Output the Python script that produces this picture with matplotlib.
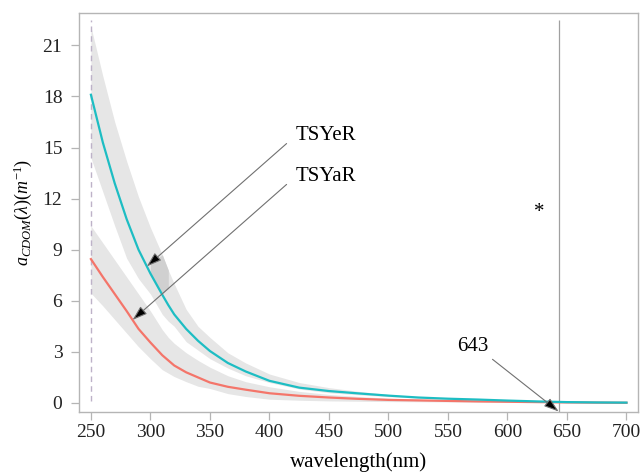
import numpy as np
import matplotlib.pyplot as plt

plt.rcParams['font.family'] = 'Liberation Serif'
plt.rcParams['mathtext.fontset'] = 'custom'
plt.rcParams['mathtext.rm'] = 'Liberation Serif'
plt.rcParams['mathtext.it'] = 'Liberation Serif:italic'

# absorption spectra, mean and spread per group
wl = np.array([250, 260, 270, 280, 290, 300, 310, 315, 320, 330, 340, 350, 365, 380,
               400, 425, 450, 475, 500, 525, 550, 575, 600, 625, 650, 675, 700])
tsyer = np.array([18.1, 15.3, 12.9, 10.8, 9.0, 7.6, 6.35, 5.75, 5.2, 4.35, 3.65, 3.05, 2.35, 1.85,
                  1.3, 0.9, 0.7, 0.56, 0.43, 0.32, 0.25, 0.2, 0.14, 0.09, 0.05, 0.03, 0.02])
tsyer_hi = np.array([22.1, 19.2, 16.5, 14.2, 12.1, 10.3, 8.7, 7.8, 7.0, 5.5, 4.5, 3.85, 2.95, 2.35,
                     1.7, 1.2, 0.9, 0.68, 0.5, 0.36, 0.28, 0.22, 0.16, 0.1, 0.06, 0.04, 0.03])
tsyer_lo = np.array([14.4, 12.4, 10.4, 8.5, 7.3, 6.4, 5.2, 4.8, 4.5, 3.6, 3.1, 2.6, 2.05, 1.6,
                     1.2, 0.82, 0.6, 0.48, 0.37, 0.29, 0.23, 0.18, 0.12, 0.08, 0.04, 0.02, 0.01])
tsyar = np.array([8.45, 7.4, 6.4, 5.4, 4.35, 3.55, 2.8, 2.5, 2.2, 1.8, 1.5, 1.2, 0.95, 0.78,
                  0.57, 0.42, 0.32, 0.24, 0.18, 0.15, 0.12, 0.09, 0.07, 0.05, 0.03, 0.02, 0.01])
tsyar_hi = np.array([10.4, 9.4, 8.4, 7.4, 6.4, 5.4, 4.3, 3.85, 3.5, 2.95, 2.5, 2.1, 1.6, 1.25,
                     0.95, 0.68, 0.5, 0.38, 0.28, 0.22, 0.17, 0.13, 0.1, 0.07, 0.05, 0.03, 0.02])
tsyar_lo = np.array([6.45, 5.7, 4.9, 4.1, 3.3, 2.6, 1.95, 1.75, 1.55, 1.25, 0.98, 0.85, 0.55, 0.38,
                     0.22, 0.16, 0.12, 0.1, 0.08, 0.07, 0.06, 0.05, 0.04, 0.03, 0.02, 0.01, 0.0])

cross_wl = 643
xticks = list(range(250, 701, 50))
yticks = list(range(0, 22, 3))

teal = '#1DBDC3'
red = '#F4756A'
band = '#e6e6e6'
grey = '#b5b5b5'

fig = plt.figure(figsize=(6.44, 4.73), dpi=100)
ax = fig.add_axes([0.1227, 0.129, 0.868, 0.8435])

ax.fill_between(wl, tsyer_lo, tsyer_hi, color=band, lw=0, zorder=1)
ax.fill_between(wl, tsyar_lo, tsyar_hi, color=band, lw=0, zorder=1)

# label anchors and arrow tips
e_txt, e_tip = (422, 15.7), 297
a_txt, a_tip = (422, 13.3), 285
e_tip_y = np.interp(e_tip, wl, tsyer)
a_tip_y = np.interp(a_tip, wl, tsyar)

# shade the upper band between the two arrows
e_line = e_tip_y + (wl - e_tip) * (e_txt[1] - e_tip_y) / (e_txt[0] - e_tip)
a_line = a_tip_y + (wl - a_tip) * (a_txt[1] - a_tip_y) / (a_txt[0] - a_tip)
top = np.minimum(tsyer_hi, e_line)
bot = np.maximum(tsyer, a_line)
hl = (wl >= 300) & (wl <= 315)
ax.fill_between(wl, bot, top, where=hl, color='#d0d0d0', lw=0, zorder=1.5)

ax.plot(wl, tsyar, color=red, lw=1.6, zorder=3)
ax.plot(wl, tsyer, color=teal, lw=1.6, zorder=3)

ax.set_xlim(240, 709.7)
ax.set_ylim(-0.53, 22.9)
ax.vlines(wl[0], 0.1, 22.5, color='#bdb2c8', lw=1.0, linestyles=(0, (4, 3)), zorder=2)
ax.vlines(cross_wl, -0.53, 22.5, color='#a0a0a0', lw=0.9, zorder=2)

arrow = dict(arrowstyle='-|>,head_length=0.6,head_width=0.2', lw=0.8,
             ec='#707070', fc='black', relpos=(0, 0.5), shrinkA=6, shrinkB=0)
ax.annotate('TSYeR', xy=(e_tip, e_tip_y), xytext=e_txt,
            ha='left', va='center', fontsize=15, arrowprops=arrow, zorder=4)
ax.annotate('TSYaR', xy=(a_tip, a_tip_y), xytext=a_txt,
            ha='left', va='center', fontsize=15, arrowprops=arrow, zorder=4)
ax.annotate(str(cross_wl), xy=(cross_wl, -0.5), xytext=(571, 3.3),
            ha='center', va='center', fontsize=15,
            arrowprops=dict(arrowstyle='-|>,head_length=0.6,head_width=0.2', lw=0.8,
                            ec='#707070', fc='black', relpos=(1, 0), shrinkA=1, shrinkB=0),
            zorder=4)
ax.text(627, 11.2, '*', fontsize=15, ha='center', va='center')

ax.set_xticks(xticks)
ax.set_yticks(yticks)
ax.tick_params(direction='out', length=6, width=0.9, color=grey, labelsize=14,
               labelcolor='#222222')
ax.tick_params(axis='y', pad=6)
ax.tick_params(axis='x', pad=3)
for s in ax.spines.values():
    s.set_color(grey)
    s.set_linewidth(1.0)

ax.set_xlabel('wavelength(nm)', fontsize=15, labelpad=8)
ax.set_ylabel(r'$a_{CDOM}(\lambda)(m^{-1})$', fontsize=13, labelpad=6)

fig.savefig('out.png', dpi=100)
